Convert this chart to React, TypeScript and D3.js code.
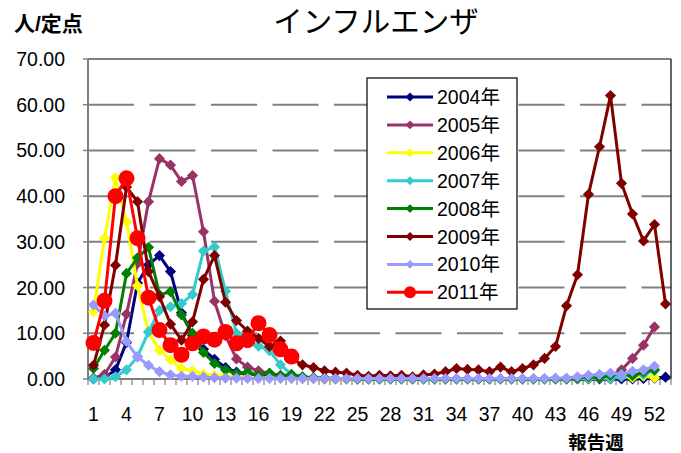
import React from 'react';
import * as d3 from 'd3';

// weeks 1..53
const weeks = d3.range(1, 54);
const xTickWeeks = [1, 4, 7, 10, 13, 16, 19, 22, 25, 28, 31, 34, 37, 40, 43, 46, 49, 52];
const yTicks = [0, 10, 20, 30, 40, 50, 60, 70];

const s2004 = [0.0, 0.3, 2.0, 8.0, 21.0, 25.0, 27.0, 23.5, 14.5, 9.5, 6.5, 4.3, 2.5, 1.5, 1.0, 0.7, 0.5, 0.3, 0.2, 0.1,
  0.1, 0.0, 0.0, 0.0, 0.0, 0.0, 0.0, 0.0, 0.0, 0.0, 0.0, 0.0, 0.0, 0.0, 0.0, 0.0, 0.0, 0.0, 0.0, 0.0,
  0.0, 0.0, 0.0, 0.0, 0.0, 0.0, 0.0, 0.0, 0.0, 0.0, 0.1, 0.2, 0.4];
const s2005 = [0.2, 1.0, 4.8, 14.2, 25.2, 38.8, 48.2, 46.8, 43.2, 44.5, 32.2, 17.0, 9.5, 4.4, 2.6, 1.8, 1.2, 0.8, 0.5, 0.3,
  0.2, 0.1, 0.1, 0.0, 0.0, 0.0, 0.0, 0.0, 0.0, 0.0, 0.0, 0.0, 0.0, 0.0, 0.0, 0.0, 0.0, 0.0, 0.0, 0.0,
  0.0, 0.0, 0.0, 0.0, 0.1, 0.2, 0.3, 0.6, 2.0, 4.5, 7.4, 11.4, null];
const s2006 = [14.7, 30.8, 44.0, 34.4, 20.4, 10.3, 6.3, 4.2, 2.3, 1.8, 1.1, 0.8, 0.6, 0.5, 0.4, 0.3, 0.2, 0.2, 0.1, 0.1,
  0.1, 0.0, 0.0, 0.0, 0.0, 0.0, 0.0, 0.0, 0.0, 0.0, 0.0, 0.0, 0.0, 0.0, 0.0, 0.0, 0.0, 0.0, 0.0, 0.0,
  0.0, 0.0, 0.0, 0.0, 0.1, 0.2, 0.3, 0.2, 0.5, 0.3, 0.6, 0.3, null];
const s2007 = [0.0, 0.0, 0.5, 2.0, 4.9, 10.3, 15.0, 15.8, 16.5, 18.5, 28.0, 28.9, 19.2, 10.0, 8.5, 7.2, 6.2, 3.1, 1.0, 0.5,
  0.3, 0.2, 0.1, 0.1, 0.0, 0.0, 0.0, 0.0, 0.0, 0.0, 0.0, 0.0, 0.0, 0.0, 0.0, 0.0, 0.0, 0.0, 0.0, 0.0,
  0.0, 0.0, 0.0, 0.0, 0.1, 0.2, 0.3, 0.2, 0.5, 0.8, 1.0, 1.8, null];
const s2008 = [2.3, 6.3, 10.0, 23.1, 26.5, 28.8, 18.4, 19.1, 14.0, 10.0, 5.8, 3.4, 2.0, 1.2, 1.5, 0.8, 1.3, 0.7, 1.0, 0.5,
  0.3, 0.2, 0.1, 0.1, 0.0, 0.0, 0.0, 0.0, 0.0, 0.0, 0.0, 0.0, 0.0, 0.0, 0.0, 0.0, 0.0, 0.0, 0.0, 0.0,
  0.0, 0.0, 0.0, 0.0, 0.2, 0.5, 0.3, 0.8, 1.2, 0.7, 1.5, 2.0, null];
const s2009 = [3.0, 11.8, 24.9, 42.0, 38.8, 23.5, 18.0, 12.0, 8.5, 12.5, 21.8, 27.0, 16.8, 12.8, 10.5, 8.9, 7.1, 8.3, 4.5, 3.1,
  2.5, 1.8, 1.5, 1.3, 0.8, 0.6, 0.8, 0.7, 0.8, 0.5, 0.9, 1.1, 1.6, 2.3, 2.1, 2.0, 1.6, 2.6, 1.6, 2.3,
  3.1, 4.5, 7.1, 16.0, 22.8, 40.4, 50.8, 62.0, 42.8, 36.1, 30.2, 33.8, 16.4];
const s2010 = [16.2, 13.8, 14.4, 8.2, 4.8, 3.0, 1.6, 0.9, 0.6, 0.6, 0.4, 0.3, 0.2, 0.2, 0.1, 0.1, 0.1, 0.1, 0.1, 0.1,
  0.1, 0.1, 0.1, 0.1, 0.1, 0.1, 0.1, 0.1, 0.1, 0.1, 0.1, 0.1, 0.1, 0.1, 0.1, 0.1, 0.1, 0.1, 0.1, 0.1,
  0.1, 0.1, 0.2, 0.2, 0.5, 0.8, 1.0, 1.3, 1.0, 1.7, 2.0, 2.8, null];
const s2011 = [7.9, 17.1, 40.0, 43.9, 30.8, 17.8, 10.7, 7.4, 5.3, 7.8, 9.3, 8.6, 10.3, 7.8, 8.5, 12.2, 9.6, 6.5, 4.9];

const seriesNames = ['2004年', '2005年', '2006年', '2007年', '2008年', '2009年', '2010年', '2011年'];
const seriesValues = [s2004, s2005, s2006, s2007, s2008, s2009, s2010, s2011];
const seriesColors = ['#000080', '#993366', '#FFFF00', '#33CCCC', '#008000', '#800000', '#9999FF', '#FF0000'];

const W = 681;
const H = 453;
const left = 88, right = 671, top = 59, bottom = 379;
const font = '"Liberation Sans", "Noto Sans CJK JP", sans-serif';

const App = () => {
  const x = d3.scaleBand<number>().domain(weeks).range([left, right]).padding(0);
  const cx = (w: number) => (x(w) as number) + x.bandwidth() / 2;
  const y = d3.scaleLinear().domain([0, 70]).range([bottom, top]);

  const line = d3.line<{ w: number; v: number | null }>()
    .defined(d => d.v != null)
    .x(d => cx(d.w))
    .y(d => y(d.v as number));

  const diamond = d3.symbol(d3.symbolSquare, 62)();
  const diamondSmall = d3.symbol(d3.symbolSquare, 40)();

  return (
    <svg width={W} height={H} style={{ position: 'absolute', left: 0, top: 0, background: '#fff' }}>
      {/* titles */}
      <text x={376} y={32} textAnchor="middle" fontFamily={font} fontSize={29.5}>インフルエンザ</text>
      <text x={14} y={31} fontFamily={font} fontSize={21} fontWeight="bold">人/定点</text>
      <text x={596} y={449} textAnchor="middle" fontFamily={font} fontSize={18.5} fontWeight="bold">報告週</text>

      {/* gridlines */}
      {yTicks.filter(t => t > 0 && t < 70).map(t => (
        <line key={t} x1={left} x2={right} y1={y(t)} y2={y(t)} stroke="#808080" strokeWidth={2}
          strokeDasharray="46,15.5" />
      ))}

      {/* plot frame */}
      <line x1={left} x2={right} y1={top} y2={top} stroke="#000" strokeWidth={1.2} />
      <line x1={right} x2={right} y1={top} y2={bottom} stroke="#000" strokeWidth={1.2} />

      {/* y axis */}
      <line x1={left} x2={left} y1={top} y2={bottom} stroke="#808080" strokeWidth={2} />
      {yTicks.map(t => (
        <g key={t}>
          <line x1={left - 5} x2={left} y1={y(t)} y2={y(t)} stroke="#808080" strokeWidth={1.5} />
          <text x={65} y={y(t) + 7} textAnchor="end" fontFamily={font} fontSize={19.5}>{t.toFixed(2)}</text>
        </g>
      ))}

      {/* x axis */}
      <line x1={left} x2={right} y1={bottom} y2={bottom} stroke="#808080" strokeWidth={2} />
      {weeks.concat([54]).map(w => {
        const xx = w <= 53 ? (x(w) as number) : right;
        return <line key={w} x1={xx} x2={xx} y1={bottom} y2={bottom + 6} stroke="#808080" strokeWidth={1.2} />;
      })}
      {xTickWeeks.map(w => (
        <text key={w} x={cx(w)} y={421} textAnchor="middle" fontFamily={font} fontSize={19.5}>{w}</text>
      ))}

      {/* series */}
      {seriesValues.map((vals, i) => {
        const pts = vals.map((v, k) => ({ w: weeks[k], v }));
        const color = seriesColors[i];
        const isCircle = i === 7;
        return (
          <g key={seriesNames[i]}>
            <path d={line(pts) as string} fill="none" stroke={color} strokeWidth={3} strokeLinejoin="round" />
            {pts.filter(p => p.v != null).map(p => isCircle ? (
              <circle key={p.w} cx={cx(p.w)} cy={y(p.v as number)} r={8} fill={color} />
            ) : (
              <path key={p.w} d={diamond as string} fill={color}
                transform={`translate(${cx(p.w)},${y(p.v as number)}) rotate(45)`} />
            ))}
          </g>
        );
      })}

      {/* legend */}
      <rect x={367} y={78} width={150} height={231} fill="#fff" stroke="#000" strokeWidth={1.2} />
      {seriesNames.map((name, i) => {
        const ly = 97 + i * 27.9;
        const color = seriesColors[i];
        return (
          <g key={name}>
            <line x1={387} x2={433} y1={ly} y2={ly} stroke={color} strokeWidth={3} />
            {i === 7 ? (
              <circle cx={410} cy={ly} r={6} fill={color} />
            ) : (
              <path d={diamondSmall as string} fill={color} transform={`translate(410,${ly}) rotate(45)`} />
            )}
            <text x={437} y={ly + 7} fontFamily={font} fontSize={19.5}>{name}</text>
          </g>
        );
      })}
    </svg>
  );
};

export default App;
